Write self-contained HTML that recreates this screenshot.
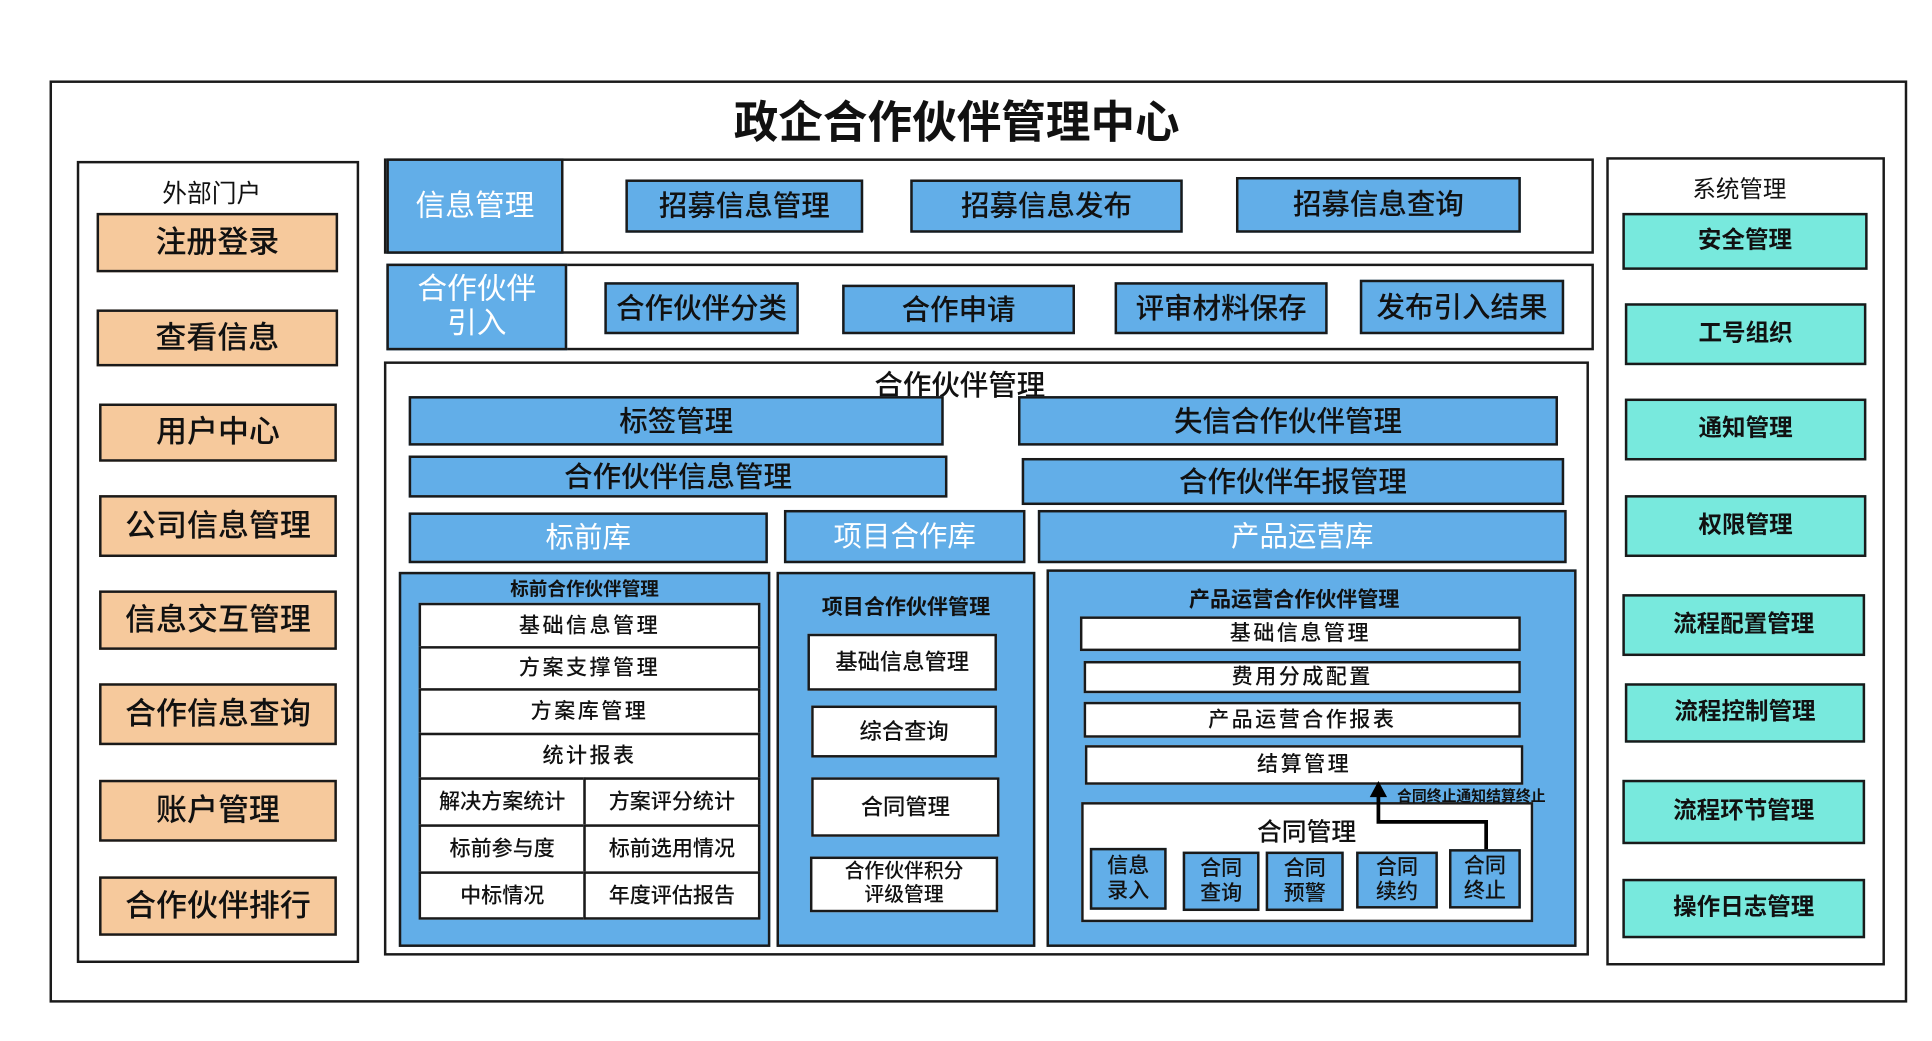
<!DOCTYPE html>
<html><head><meta charset="utf-8"><style>
html,body{margin:0;padding:0;width:1932px;height:1041px;overflow:hidden;background:#fff}
#w{position:absolute;left:0;top:0;width:1560px;height:841px;transform:scale(1.23846,1.2378);transform-origin:0 0;font-family:"Liberation Sans","Noto Sans CJK SC",sans-serif;color:#111}
.b{position:absolute;box-sizing:border-box;border:2.5px solid #1a1a1a;display:flex;align-items:center;justify-content:center;text-align:center;line-height:1.15}
.bl{background:#62aee8}
.or{background:#f6c99c;font-size:25px;font-weight:500}
.te{background:#78e9dd;font-size:19px;font-weight:bold}
.wh{background:#fff}
.t{position:absolute;white-space:nowrap}
.bt{font-size:23px;font-weight:500}
.s{font-size:17px;font-weight:500}
</style></head><body><div id="w">
<div class="b wh" style="left:40px;top:65px;width:1500px;height:745px;border-width:2px"></div>
<div class="t" style="left:0;width:1545px;text-align:center;top:70px;font-size:36px;font-weight:bold">政企合作伙伴管理中心</div>

<!-- left -->
<div class="b wh" style="left:62px;top:130px;width:228px;height:648px"></div>
<div class="t" style="left:62px;width:218px;text-align:center;top:140px;font-size:20px">外部门户</div>
<div class="b or" style="left:78px;top:172px;width:195px;height:48px">注册登录</div>
<div class="b or" style="left:78px;top:250px;width:195px;height:46px">查看信息</div>
<div class="b or" style="left:80px;top:326px;width:192px;height:47px">用户中心</div>
<div class="b or" style="left:80px;top:400px;width:192px;height:50px">公司信息管理</div>
<div class="b or" style="left:80px;top:477px;width:192px;height:48px">信息交互管理</div>
<div class="b or" style="left:80px;top:552px;width:192px;height:50px">合作信息查询</div>
<div class="b or" style="left:80px;top:630px;width:192px;height:50px">账户管理</div>
<div class="b or" style="left:80px;top:708px;width:192px;height:48px">合作伙伴排行</div>

<!-- right -->
<div class="b wh" style="left:1297px;top:127px;width:225px;height:653px"></div>
<div class="t" style="left:1297px;width:215px;text-align:center;top:138px;font-size:19px">系统管理</div>
<div class="b te" style="left:1310px;top:172px;width:198px;height:46px">安全管理</div>
<div class="b te" style="left:1312px;top:245px;width:195px;height:50px">工号组织</div>
<div class="b te" style="left:1312px;top:322px;width:195px;height:50px">通知管理</div>
<div class="b te" style="left:1312px;top:400px;width:195px;height:50px">权限管理</div>
<div class="b te" style="left:1310px;top:480px;width:196px;height:50px">流程配置管理</div>
<div class="b te" style="left:1312px;top:552px;width:194px;height:48px">流程控制管理</div>
<div class="b te" style="left:1310px;top:630px;width:196px;height:52px">流程环节管理</div>
<div class="b te" style="left:1310px;top:710px;width:196px;height:48px">操作日志管理</div>

<!-- info row -->
<div class="b wh" style="left:310px;top:128px;width:977px;height:77px"></div>
<div class="b bl" style="left:312px;top:128px;width:143px;height:77px;color:#fff;font-size:24px">信息管理</div>
<div class="b bl bt" style="left:505px;top:145px;width:192px;height:43px">招募信息管理</div>
<div class="b bl bt" style="left:735px;top:145px;width:220px;height:43px">招募信息发布</div>
<div class="b bl bt" style="left:998px;top:143px;width:230px;height:45px">招募信息查询</div>

<div class="b wh" style="left:312px;top:213px;width:975px;height:70px"></div>
<div class="b bl" style="left:312px;top:213px;width:146px;height:70px;color:#fff;font-size:24px">合作伙伴<br>引入</div>
<div class="b bl bt" style="left:488px;top:228px;width:157px;height:42px">合作伙伴分类</div>
<div class="b bl bt" style="left:680px;top:230px;width:188px;height:40px">合作申请</div>
<div class="b bl bt" style="left:900px;top:228px;width:172px;height:42px">评审材料保存</div>
<div class="b bl bt" style="left:1098px;top:226px;width:165px;height:44px">发布引入结果</div>

<!-- partner mgmt -->
<div class="b wh" style="left:310px;top:292px;width:973px;height:480px"></div>
<div class="t" style="left:310px;width:930px;text-align:center;top:292px;font-size:23px;font-weight:500">合作伙伴管理</div>
<div class="b bl bt" style="left:330px;top:320px;width:432px;height:40px">标签管理</div>
<div class="b bl bt" style="left:822px;top:320px;width:436px;height:40px">失信合作伙伴管理</div>
<div class="b bl bt" style="left:330px;top:368px;width:435px;height:34px">合作伙伴信息管理</div>
<div class="b bl bt" style="left:825px;top:370px;width:438px;height:38px">合作伙伴年报管理</div>
<div class="b bl" style="left:330px;top:414px;width:290px;height:41px;color:#fff;font-size:23px">标前库</div>
<div class="b bl" style="left:633px;top:412px;width:195px;height:43px;color:#fff;font-size:23px">项目合作库</div>
<div class="b bl" style="left:838px;top:412px;width:427px;height:43px;color:#fff;font-size:23px">产品运营库</div>

<!-- left sub -->
<div class="b bl" style="left:322px;top:462px;width:300px;height:303px"></div>
<div class="t" style="left:322px;width:300px;text-align:center;top:465px;font-size:15px;font-weight:bold">标前合作伙伴管理</div>
<div class="b wh s" style="left:338px;top:487px;width:276px;height:37px;letter-spacing:2px">基础信息管理</div>
<div class="b wh s" style="left:338px;top:522px;width:276px;height:36px;letter-spacing:2px">方案支撑管理</div>
<div class="b wh s" style="left:338px;top:556px;width:276px;height:38px;letter-spacing:2px">方案库管理</div>
<div class="b wh s" style="left:338px;top:592px;width:276px;height:38px;letter-spacing:2px">统计报表</div>
<div class="b wh s" style="left:338px;top:628px;width:135px;height:40px">解决方案统计</div>
<div class="b wh s" style="left:471px;top:628px;width:143px;height:40px">方案评分统计</div>
<div class="b wh s" style="left:338px;top:666px;width:135px;height:40px">标前参与度</div>
<div class="b wh s" style="left:471px;top:666px;width:143px;height:40px">标前选用情况</div>
<div class="b wh s" style="left:338px;top:704px;width:135px;height:39px">中标情况</div>
<div class="b wh s" style="left:471px;top:704px;width:143px;height:39px">年度评估报告</div>

<!-- middle sub -->
<div class="b bl" style="left:627px;top:462px;width:209px;height:303px"></div>
<div class="t" style="left:627px;width:209px;text-align:center;top:476px;font-size:17px;font-weight:bold">项目合作伙伴管理</div>
<div class="b wh s" style="left:652px;top:512px;width:153px;height:46px;font-size:18px">基础信息管理</div>
<div class="b wh s" style="left:655px;top:570px;width:150px;height:42px;font-size:18px">综合查询</div>
<div class="b wh s" style="left:655px;top:628px;width:152px;height:48px;font-size:18px">合同管理</div>
<div class="b wh" style="left:654px;top:692px;width:152px;height:45px;font-size:16px;font-weight:500">合作伙伴积分<br>评级管理</div>

<!-- right sub -->
<div class="b bl" style="left:845px;top:460px;width:428px;height:305px"></div>
<div class="t" style="left:845px;width:400px;text-align:center;top:470px;font-size:17px;font-weight:bold">产品运营合作伙伴管理</div>
<div class="b wh s" style="left:872px;top:498px;width:356px;height:28px;letter-spacing:2px">基础信息管理</div>
<div class="b wh s" style="left:875px;top:534px;width:353px;height:26px;letter-spacing:2px">费用分成配置</div>
<div class="b wh s" style="left:875px;top:567px;width:353px;height:29px;letter-spacing:2px">产品运营合作报表</div>
<div class="b wh s" style="left:876px;top:602px;width:354px;height:32px;letter-spacing:2px">结算管理</div>
<div class="b wh" style="left:873px;top:648px;width:365px;height:97px"></div>
<div class="t" style="left:1015px;top:656px;font-size:20px;font-weight:500">合同管理</div>
<div class="b bl s" style="left:880px;top:685px;width:62px;height:50px">信息<br>录入</div>
<div class="b bl s" style="left:955px;top:688px;width:62px;height:48px">合同<br>查询</div>
<div class="b bl s" style="left:1022px;top:688px;width:63px;height:48px">合同<br>预警</div>
<div class="b bl s" style="left:1095px;top:688px;width:66px;height:46px">合同<br>续约</div>
<div class="b bl s" style="left:1170px;top:686px;width:58px;height:48px">合同<br>终止</div>
<svg style="position:absolute;left:0;top:0" width="1560" height="841">
<polyline points="1200,686 1200,664 1113,664 1113,642" fill="none" stroke="#000" stroke-width="3"/>
<polygon points="1106,644 1120,644 1113,631" fill="#000"/>
</svg>
<div class="t" style="left:1128px;top:634px;font-size:12px;font-weight:bold">合同终止通知结算终止</div>
</div></body></html>
